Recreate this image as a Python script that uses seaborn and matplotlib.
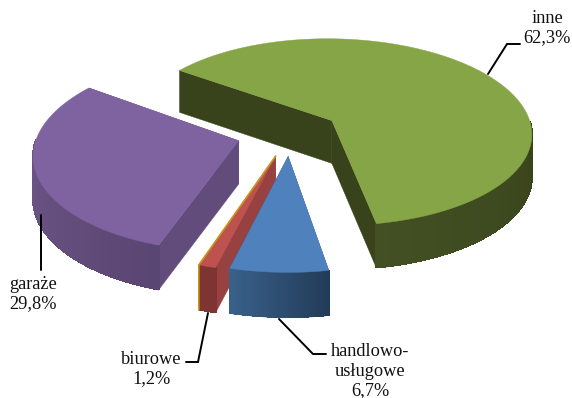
# exploded 3d pie, drawn by hand because matplotlib has no perspective pie

import numpy as np
import matplotlib
matplotlib.use('Agg')
import matplotlib.pyplot as plt
import seaborn as sns

# data (clockwise from the first slice)
categories = ['inne', 'handlowo-\nusługowe', 'biurowe', 'garaże']
values = [62.3, 6.7, 1.2, 29.8]

# colours: top, radial wall, outer wall start, outer wall end
top_colors = ['#85a546', '#4f81bd', '#bd524f', '#7f62a0']
wall_colors = ['#39431b', '#2f4e73', '#974140', '#614c7c']
outer_start = ['#425023', '#3a6189', '#7d3432', '#6f5789']
outer_end = ['#39431b', '#233c5a', '#7d3432', '#5a4672']

# projection of the pie
first_angle = 144.2
explode = [0.25, 0.24, 0.245, 0.265]
cx, cy = 290, 133
a, b, k = 201, 95, 0.125
depth = 43


def project(x, y, z=0.0):
    w = 1 + k * y
    return cx + a * x / w, cy - b * y / w + z * depth / w ** 0.3


def draw_slice(ax, start, stop, shift, top, wall, c0, c1, order):
    mid = np.radians((start + stop) / 2)
    ox, oy = shift * np.cos(mid), shift * np.sin(mid)
    t = np.radians(np.linspace(start, stop, 120))
    px = ox + np.cos(t)
    py = oy + np.sin(t)

    # radial walls first
    for i in [0, -1]:
        xs = [ox, px[i], px[i], ox]
        ys = [oy, py[i], py[i], oy]
        zs = [0, 0, 1, 1]
        pts = [project(x, y, z) for x, y, z in zip(xs, ys, zs)]
        ax.fill(*zip(*pts), color=wall, lw=0.3, zorder=order)

    # outer wall as small shaded pieces, only the part facing the viewer
    front = [i for i in range(len(t) - 1) if np.sin(t[i]) < 0]
    front = sorted(front, key=lambda i: np.cos(t[i]))
    shades = sns.blend_palette([c0, c1], max(len(front), 2))

    # one smooth polygon under the pieces, so the pieces can go without antialiasing
    lo = project(px[front], py[front], 0)
    hi = project(px[front], py[front], 1)
    ax.fill(np.r_[lo[0], hi[0][::-1]], np.r_[lo[1], hi[1][::-1]], color=c1, lw=0.3, zorder=order)
    for n, i in enumerate(front):
        pts = [project(px[i], py[i], 0), project(px[i + 1], py[i + 1], 0),
               project(px[i + 1], py[i + 1], 0.985), project(px[i], py[i], 0.985)]
        ax.fill(*zip(*pts), color=shades[n], lw=0.8, antialiased=False, zorder=order)

    # top face
    tx, ty = project(np.r_[ox, px], np.r_[oy, py])
    ax.fill(tx, ty, color=top, lw=0.3, zorder=order + 0.5)
    return ox, oy, px, py


def main():
    sns.set_theme(style='white')
    plt.rcParams['font.family'] = ['Liberation Serif', 'DejaVu Serif']

    fig = plt.figure(figsize=(5.72, 3.98), dpi=100)
    ax = fig.add_axes([0, 0, 1, 1])

    sweeps = np.array(values) / sum(values) * 360
    stops = first_angle - np.cumsum(sweeps)
    starts = stops + sweeps

    # back to front: inne, garaże, biurowe, handlowo-usługowe
    for order, i in enumerate([0, 3, 2, 1]):
        ox, oy, px, py = draw_slice(ax, starts[i], stops[i], explode[i], top_colors[i],
                                    wall_colors[i], outer_start[i], outer_end[i], order + 1)
        if categories[i] == 'biurowe':
            # thin orange rim on the left side of the red slice
            pts = [project(ox, oy), project(px[-1], py[-1]), project(px[-1], py[-1], 1)]
            ax.plot(*zip(*pts), color='#c8981c', lw=1.2, zorder=order + 1.7,
                    solid_joinstyle='miter')

    # leader lines
    leaders = [([488, 507, 520], [74, 44, 44]),
               ([279, 313, 326], [319, 354, 354]),
               ([208, 198, 186], [313, 362, 362]),
               ([41, 41], [215, 270])]
    label_pos = [(547, 28), (370, 371), (151, 369), (33, 294)]
    for i, name in enumerate(categories):
        ax.plot(*leaders[i], color='black', lw=1.4, zorder=8, solid_joinstyle='miter')
        pct = f'{values[i]:.1f}%'.replace('.', ',')
        ax.text(*label_pos[i], f'{name}\n{pct}', ha='center', va='center',
                fontsize=13.2, color='#111111', linespacing=1.2, zorder=9)

    ax.set_xlim(0, 572)
    ax.set_ylim(398, 0)
    ax.axis('off')
    sns.despine(ax=ax, left=True, bottom=True)
    fig.savefig('out.png', dpi=100, facecolor='white')
    plt.close(fig)


if __name__ == '__main__':
    main()
